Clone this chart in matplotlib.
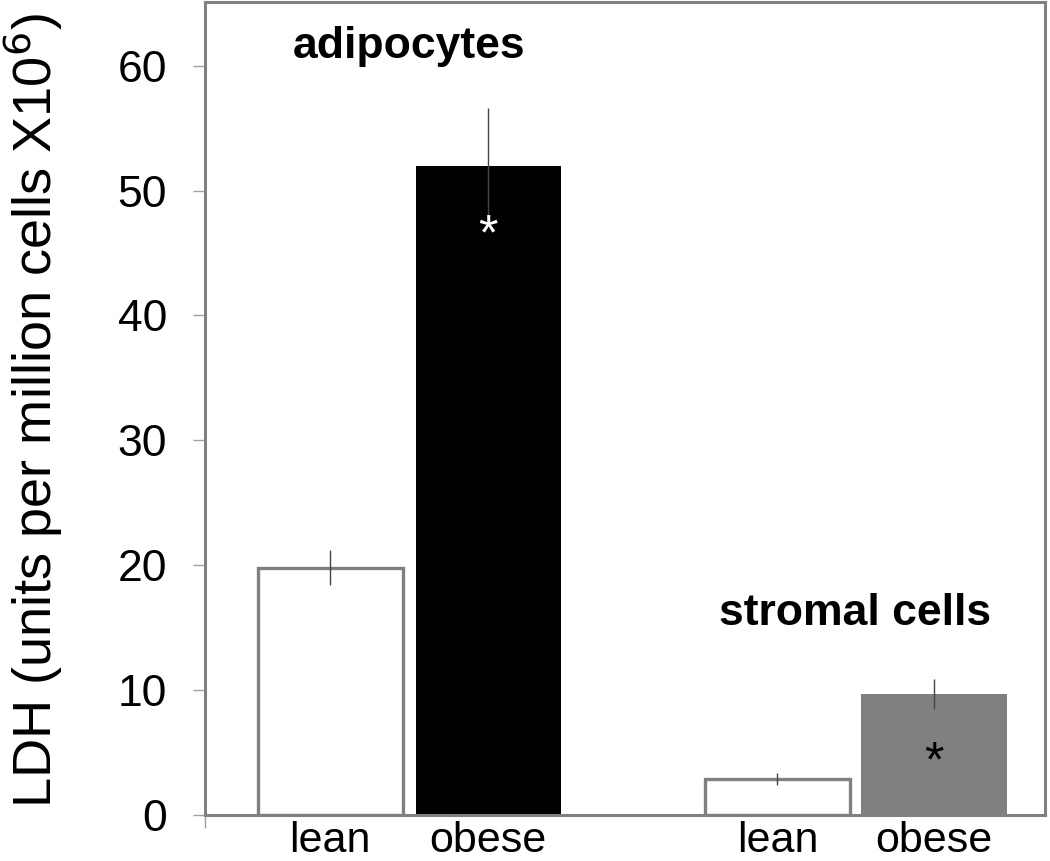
import matplotlib
matplotlib.use("Agg")
import matplotlib.pyplot as plt

plt.rcParams['font.family'] = ['Liberation Sans', 'DejaVu Sans']

# Data
groups = ["adipocytes", "stromal cells"]
bar_labels = ["lean", "obese", "lean", "obese"]
values = [19.8, 52.0, 2.9, 9.7]
errors = [1.4, 4.6, 0.5, 1.2]
yticks = [0, 10, 20, 30, 40, 50, 60]

positions = [0, 1, 2.83, 3.82]
facecolors = ["white", "black", "white", "#808080"]
edgecolors = ["#808080", "black", "#808080", "#808080"]
linewidths = [2.4, 0, 2.4, 0]

fig = plt.figure(figsize=(10.5, 8.61), dpi=100)
ax = fig.add_axes([0.195, 0.0534, 0.8, 0.9443])

for x, v, e, fc, ec, lw in zip(positions, values, errors, facecolors, edgecolors, linewidths):
    ax.bar(x, v, width=0.92, color=fc, edgecolor=ec, linewidth=lw, zorder=2)
    ax.errorbar(x, v, yerr=e, fmt='none', ecolor='#444444', elinewidth=1.0, capsize=0, zorder=3)

ax.set_xlim(-0.794, 4.522)
ax.set_ylim(0, 65.1)

ax.set_yticks(yticks)
ax.set_yticklabels([str(t) for t in yticks], fontsize=32)
ax.tick_params(axis='y', direction='out', length=9, width=1, color='#a0a0a0', pad=18)

ax.set_xticks(positions)
ax.set_xticklabels(bar_labels, fontsize=31)
ax.tick_params(axis='x', length=0, pad=4)
ax.set_xticks([-0.794], minor=True)
ax.tick_params(axis='x', which='minor', length=9, width=1, color='#a0a0a0', direction='out')

for s in ax.spines.values():
    s.set_color('#808080')
    s.set_linewidth(2.2)

ax.set_ylabel("LDH (units per million cells X10$^{6}$)", fontsize=39)
ax.yaxis.set_label_coords(-0.195 + 24/840, 0.497)

ax.text(0.5, 60.6, groups[0], fontsize=32, fontweight='bold', ha='center', va='baseline')
ax.text(3.32, 15.2, groups[1], fontsize=32, fontweight='bold', ha='center', va='baseline')

ax.text(positions[1], 46.3, "*", fontsize=36, color='white', ha='center', va='center')
ax.text(positions[3], 4.1, "*", fontsize=36, color='black', ha='center', va='center')

fig.savefig("out.png", dpi=100)
